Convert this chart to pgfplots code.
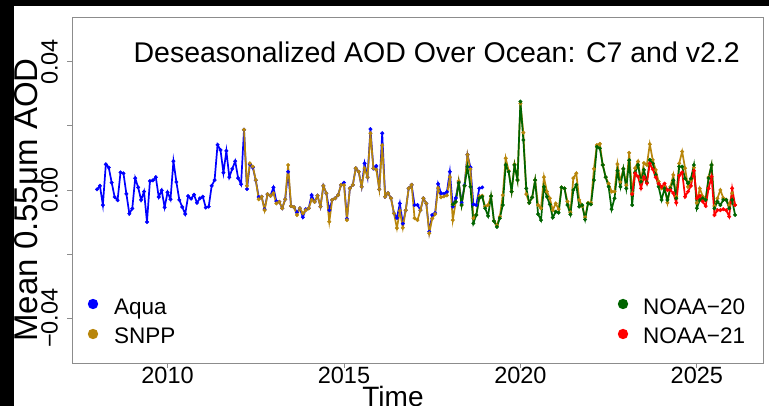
\documentclass[border=0pt]{standalone}
\usepackage{fontspec}
\setmainfont{Liberation Sans}
\usepackage{pgfplots}
\usepackage{pgfplotstable}
\pgfplotsset{compat=1.18}

\definecolor{aquac}{HTML}{0000FF}
\definecolor{snppc}{HTML}{B8860B}
\definecolor{n20c}{HTML}{006400}
\definecolor{n21c}{HTML}{FF0000}
\definecolor{framec}{gray}{0.55}

% month index m: 0 = Jan 2008
\pgfplotstableread{
m v
0 0.0002
1 0.0013
2 -0.0047
3 0.0080
4 0.0070
5 0.0023
6 -0.0022
7 -0.0032
8 0.0055
9 0.0052
10 -0.0012
11 -0.0074
12 -0.0058
13 0.0037
14 0.0008
15 -0.0031
16 -0.0005
17 -0.0100
18 0.0028
19 0.0030
20 0.0040
21 -0.0022
22 -0.0001
23 -0.0054
24 -0.0007
25 -0.0029
26 0.0090
27 0.0025
28 -0.0031
29 -0.0053
30 -0.0075
31 -0.0019
32 -0.0027
33 -0.0015
34 -0.0040
35 -0.0026
36 -0.0021
37 -0.0055
38 -0.0052
39 0.0013
40 0.0031
41 0.0141
42 0.0125
43 0.0054
44 0.0122
45 0.0040
46 0.0066
47 0.0090
48 0.0037
49 0.0018
50 0.0188
51 0.0003
52 0.0080
53 0.0070
54 0.0030
55 -0.0022
56 -0.0021
57 -0.0060
58 -0.0013
59 -0.0018
60 0.0008
61 -0.0035
62 -0.0037
63 -0.0057
64 -0.0029
65 0.0057
66 -0.0050
67 -0.0054
68 -0.0070
69 -0.0057
70 -0.0085
71 -0.0060
72 -0.0057
73 -0.0016
74 -0.0037
75 -0.0018
76 -0.0052
77 0.0013
78 -0.0010
79 -0.0063
80 -0.0031
81 -0.0026
82 -0.0016
83 0.0016
84 0.0023
85 -0.0090
86 0.0005
87 0.0016
88 0.0068
89 0.0057
90 0.0010
91 0.0083
92 0.0040
93 0.0190
94 0.0067
95 0.0075
96 0.0002
97 0.0177
98 -0.0021
99 -0.0010
100 -0.0026
101 -0.0073
102 -0.0087
103 -0.0042
104 -0.0105
105 -0.0063
106 0.0005
107 0.0016
108 -0.0047
109 -0.0047
110 -0.0063
111 -0.0026
112 -0.0042
113 -0.0130
114 -0.0078
115 -0.0072
116 0.0019
117 -0.0010
118 -0.0012
119 -0.0006
120 0.0057
121 -0.0052
122 -0.0025
123 0.0025
124 -0.0040
125 0.0015
126 0.0110
127 0.0071
128 -0.0045
129 -0.0047
130 0.0005
131 0.0008
}\aqua

\pgfplotstableread{
m v
50 0.0188
51 0.0013
52 0.0083
53 0.0073
54 0.0031
55 -0.0029
56 -0.0021
57 -0.0063
58 -0.0013
59 -0.0018
60 -0.0010
61 -0.0042
62 -0.0037
63 -0.0057
64 -0.0029
65 0.0078
66 -0.0050
67 -0.0054
68 -0.0078
69 -0.0057
70 -0.0073
71 -0.0063
72 -0.0057
73 -0.0031
74 -0.0037
75 -0.0018
76 -0.0052
77 0.0013
78 -0.0010
79 -0.0099
80 -0.0031
81 -0.0026
82 -0.0016
83 0.0016
84 0.0015
85 -0.0094
86 0.0005
87 0.0016
88 0.0068
89 0.0057
90 0.0010
91 0.0068
92 0.0040
93 0.0177
94 0.0068
95 0.0063
96 0.0002
97 0.0140
98 -0.0021
99 -0.0010
100 -0.0026
101 -0.0073
102 -0.0119
103 -0.0065
104 -0.0118
105 -0.0063
106 0.0005
107 0.0016
108 -0.0088
109 -0.0094
110 -0.0063
111 -0.0026
112 -0.0042
113 -0.0135
114 -0.0089
115 -0.0075
116 0.0006
117 -0.0023
118 -0.0020
119 -0.0017
120 0.0040
121 -0.0094
122 -0.0037
123 0.0028
124 -0.0047
125 0.0013
126 0.0110
127 0.0065
128 -0.0088
129 -0.0078
130 -0.0019
131 -0.0018
132 -0.0052
133 -0.0047
134 -0.0019
135 -0.0097
136 -0.0110
137 -0.0083
138 -0.0016
139 0.0099
140 0.0060
141 -0.0005
142 0.0080
143 0.0031
144 0.0270
145 0.0179
146 -0.0013
147 -0.0040
148 -0.0023
149 0.0031
150 -0.0047
151 -0.0057
152 0.0040
153 -0.0005
154 -0.0026
155 -0.0063
156 -0.0042
157 -0.0060
158 0.0008
159 0.0005
160 -0.0036
161 -0.0070
162 0.0037
163 0.0052
164 -0.0031
165 -0.0050
166 -0.0085
167 -0.0040
168 -0.0040
169 0.0066
170 0.0140
171 0.0144
172 0.0078
173 0.0040
174 0.0020
175 -0.0005
176 -0.0005
177 0.0081
178 0.0025
179 0.0066
180 0.0015
181 0.0116
182 -0.0010
183 0.0068
184 0.0089
185 0.0030
186 0.0084
187 0.0078
188 0.0143
189 0.0094
190 0.0063
191 0.0026
192 0.0005
193 0.0010
194 -0.0040
195 0.0010
196 0.0047
197 -0.0020
198 0.0083
199 0.0120
200 0.0068
201 0.0010
202 0.0030
203 0.0070
204 -0.0040
205 0.0005
206 -0.0020
207 -0.0030
208 0.0040
209 0.0078
210 -0.0050
211 -0.0026
212 0.0000
213 -0.0025
214 -0.0030
215 -0.0047
216 -0.0010
217 -0.0047
}\snpp

\pgfplotstableread{
m v
121 -0.0045
122 -0.0037
123 0.0022
124 -0.0047
125 0.0013
126 0.0073
127 0.0010
128 -0.0104
129 -0.0078
130 -0.0026
131 -0.0021
132 -0.0057
133 -0.0081
134 -0.0019
135 -0.0097
136 -0.0115
137 -0.0088
138 -0.0047
139 0.0078
140 0.0057
141 -0.0005
142 0.0078
143 0.0031
144 0.0276
145 0.0156
146 0.0005
147 -0.0040
148 -0.0023
149 0.0031
150 -0.0075
151 -0.0094
152 0.0010
153 -0.0021
154 -0.0045
155 -0.0086
156 -0.0068
157 -0.0071
158 0.0008
159 0.0005
160 -0.0047
161 -0.0076
162 0.0000
163 0.0016
164 -0.0052
165 -0.0047
166 -0.0092
167 -0.0042
168 -0.0045
169 0.0031
170 0.0135
171 0.0130
172 0.0078
173 0.0040
174 0.0010
175 -0.0060
176 -0.0026
177 0.0060
178 0.0010
179 0.0066
180 0.0005
181 0.0093
182 -0.0047
183 0.0055
184 0.0078
185 0.0026
186 0.0063
187 0.0024
188 0.0094
189 0.0083
190 0.0047
191 0.0010
192 -0.0031
193 0.0005
194 -0.0031
195 0.0005
196 0.0030
197 -0.0026
198 0.0073
199 0.0073
200 0.0036
201 0.0021
202 0.0036
203 0.0078
204 -0.0057
205 -0.0031
206 -0.0026
207 -0.0031
208 0.0037
209 0.0078
210 -0.0057
211 -0.0036
212 -0.0047
213 -0.0031
214 -0.0031
215 -0.0057
216 -0.0031
217 -0.0078
}\nXX

\pgfplotstableread{
m v
182 -0.0013
183 0.0052
184 0.0042
185 0.0005
186 0.0040
187 0.0021
188 0.0083
189 0.0065
190 0.0040
191 0.0020
192 0.0010
193 0.0020
194 0.0000
195 0.0000
196 -0.0010
197 -0.0040
198 0.0045
199 0.0055
200 -0.0021
201 -0.0005
202 0.0013
203 0.0060
204 -0.0026
205 -0.0018
206 -0.0036
207 -0.0050
208 0.0005
209 0.0042
210 -0.0078
211 -0.0063
212 -0.0063
213 -0.0060
214 -0.0063
215 -0.0083
216 0.0005
217 -0.0047
}\nXXI

\begin{document}
\begin{tikzpicture}[x=1pt,y=1pt]
\useasboundingbox (0,0) rectangle (769,406);
\fill[black] (0,0) rectangle (14,406);
\fill[black] (0,400) rectangle (769,406);
\begin{axis}[
    at={(72pt,43pt)}, anchor=south west,
    scale only axis,
    width=691pt, height=346pt,
    xmin=-8.5, xmax=226.5,
    ymin=-0.054, ymax=0.054,
    scaled y ticks=false,
    axis line style={framec, line width=0.9pt},
    xtick={24,84,144,204},
    xticklabels={2010,2015,2020,2025},
    ytick={-0.04,-0.02,0,0.02,0.04},
    yticklabels={−0.04,,0.00,,0.04},
    xtick pos=bottom, ytick pos=left,
    tick align=outside,
    major tick length=5pt,
    tick style={framec, line width=0.9pt},
    xticklabel style={font=\fontsize{23.5}{26}\selectfont, inner sep=0pt, anchor=north},
    yticklabel style={font=\fontsize{23.5}{26}\selectfont, inner sep=0pt, rotate=90, anchor=south},
    xticklabel shift=-1pt,
    yticklabel shift=9pt,
    every axis plot/.append style={line width=1.7pt, mark=*, mark size=1.8pt, mark options={solid, line width=0.4pt}},
    clip=false,
]
\addplot[aquac] table[x=m, y=v] {\aqua};
\addplot[snppc] table[x=m, y=v] {\snpp};
\addplot[n20c] table[x=m, y=v] {\nXX};
\addplot[n21c] table[x=m, y=v] {\nXXI};
\end{axis}
% title
\node[anchor=base east, inner sep=0pt, font=\fontsize{28.5}{30}\selectfont] at (740,343) {Deseasonalized AOD Over Ocean: C7 and v2.2};
% axis labels
\node[anchor=base, rotate=90, inner sep=0pt, font=\fontsize{33}{36}\selectfont] at (37,206) {Mean 0.55μm AOD};
\node[anchor=base, inner sep=0pt, font=\fontsize{28}{30}\selectfont] at (393,-1) {Time};
% legends
\fill[aquac] (93,102) circle (5.2);
\fill[snppc] (93,72) circle (5.2);
\fill[n20c] (623,102) circle (5.2);
\fill[n21c] (623,72) circle (5.2);
\begin{scope}[every node/.style={anchor=base west, inner sep=0pt, font=\fontsize{22.5}{25}\selectfont}]
\node at (114,91) {Aqua};
\node at (114,62) {SNPP};
\node at (643,91) {NOAA−20};
\node at (643,62) {NOAA−21};
\end{scope}
\end{tikzpicture}
\end{document}
